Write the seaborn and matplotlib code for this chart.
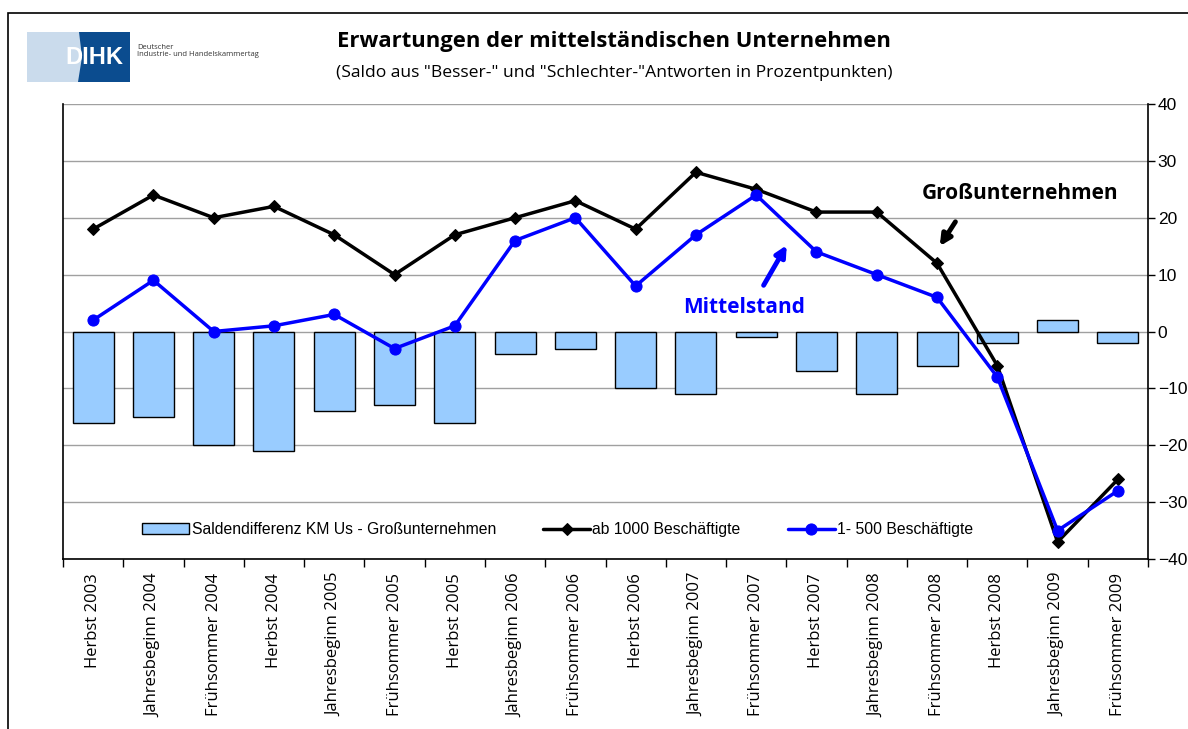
import numpy as np
import matplotlib
matplotlib.use('Agg')
import matplotlib.pyplot as plt
import seaborn as sns
from matplotlib.patches import Rectangle, Polygon

categories = ['Herbst 2003', 'Jahresbeginn 2004', 'Frühsommer 2004', 'Herbst 2004',
              'Jahresbeginn 2005', 'Frühsommer 2005', 'Herbst 2005', 'Jahresbeginn 2006',
              'Frühsommer 2006', 'Herbst 2006', 'Jahresbeginn 2007', 'Frühsommer 2007',
              'Herbst 2007', 'Jahresbeginn 2008', 'Frühsommer 2008', 'Herbst 2008',
              'Jahresbeginn 2009', 'Frühsommer 2009']
saldendifferenz = [-16, -15, -20, -21, -14, -13, -16, -4, -3, -10, -11, -1, -7, -11, -6, -2, 2, -2]
ab_1000 = [18, 24, 20, 22, 17, 10, 17, 20, 23, 18, 28, 25, 21, 21, 12, -6, -37, -26]
bis_500 = [2, 9, 0, 1, 3, -3, 1, 16, 20, 8, 17, 24, 14, 10, 6, -8, -35, -28]
y_ticks = [-40, -30, -20, -10, 0, 10, 20, 30, 40]

sns.set_style('white')
plt.rcParams['font.family'] = ['Open Sans', 'DejaVu Sans']
plt.rcParams['text.color'] = 'black'
plt.rcParams['xtick.color'] = 'black'
plt.rcParams['ytick.color'] = 'black'

fig = plt.figure(figsize=(11.88, 7.29), dpi=100)
W, H = 1188, 729
ax = fig.add_axes([63 / W, 1 - 559 / H, (1148 - 63) / W, (559 - 104) / H])

pos = np.arange(len(categories))
sns.barplot(x=pos, y=saldendifferenz, color='#99CCFF', saturation=1, edgecolor='black',
            linewidth=1, width=0.68, ax=ax, label='Saldendifferenz KM Us - Großunternehmen',
            native_scale=True)
sns.lineplot(x=pos, y=ab_1000, color='black', lw=2.5, marker='D', markersize=6,
             markeredgecolor='black', ax=ax, label='ab 1000 Beschäftigte')
sns.lineplot(x=pos, y=bis_500, color='#0000FF', lw=2.5, marker='o', markersize=8,
             markeredgecolor='#0000FF', ax=ax, label='1- 500 Beschäftigte')

ax.set_xlim(-0.5, len(categories) - 0.5)
ax.set_ylim(-40, 40)
ax.set_axisbelow(True)
ax.yaxis.grid(True, color='#A0A0A0', linewidth=1)

ax.yaxis.tick_right()
ax.set_yticks(y_ticks)
ax.set_yticklabels([str(v) if v >= 0 else '\u2212' + str(-v) for v in y_ticks],
                   fontsize=12.5, family=['Liberation Sans', 'DejaVu Sans'])
ax.tick_params(axis='y', right=True, length=5, width=1, pad=2, color='black')

ax.set_xticks(pos)
ax.set_xticklabels(categories, rotation=90, fontsize=12)
ax.set_xticks(np.arange(-0.5, len(categories), 1), minor=True)
ax.tick_params(axis='x', which='major', length=0, pad=10)
ax.tick_params(axis='x', which='minor', bottom=True, length=6, width=1, color='black')
ax.set_xlabel('')
ax.set_ylabel('')

for s in ['left', 'right', 'bottom']:
    ax.spines[s].set_visible(True)
    ax.spines[s].set_color('black')
    ax.spines[s].set_linewidth(1.2)
ax.spines['top'].set_visible(False)

handles, labels = ax.get_legend_handles_labels()
order = [labels.index('Saldendifferenz KM Us - Großunternehmen'),
         labels.index('ab 1000 Beschäftigte'), labels.index('1- 500 Beschäftigte')]
ax.legend([handles[i] for i in order], [labels[i] for i in order],
          loc='center', bbox_to_anchor=(0.456, 0.064), ncol=3, frameon=False,
          handlelength=3.0, handleheight=0.7, columnspacing=3.0, handletextpad=0.15,
          prop={'family': 'Liberation Sans', 'size': 11.3})

# annotations
ax.annotate('', xy=(14.02, 14.6), xytext=(14.33, 19.7),
            arrowprops=dict(arrowstyle='-|>', lw=3.5, mutation_scale=16, color='black'))
ax.text(15.38, 24.3, 'Großunternehmen', ha='center', va='center', fontsize=15,
        fontweight='bold', color='black')
ax.annotate('', xy=(11.53, 15.6), xytext=(11.1, 7.7),
            arrowprops=dict(arrowstyle='-|>', lw=3.5, mutation_scale=16, color='#0000FF'))
ax.text(10.8, 4.2, 'Mittelstand', ha='center', va='center', fontsize=15,
        fontweight='bold', color='#0000FF')

# titles
fig.text(614 / W, 1 - 42 / H, 'Erwartungen der mittelständischen Unternehmen',
         ha='center', va='center', fontsize=15.8, fontweight='bold')
fig.text(614 / W, 1 - 73 / H,
         '(Saldo aus "Besser-" und "Schlechter-"Antworten in Prozentpunkten)',
         ha='center', va='center', fontsize=12.6)

# outer frame
fig.add_artist(Rectangle((8 / W, -0.1), 1.2, (H - 13) / H + 0.1, transform=fig.transFigure,
                         fill=False, edgecolor='black', lw=1.2))

# DIHK logo
fig.add_artist(Rectangle((27 / W, 1 - 82 / H), 103 / W, 50 / H, transform=fig.transFigure,
                         facecolor='#CADBEC', edgecolor='none'))
fig.add_artist(Polygon([(79 / W, 1 - 32 / H), (130 / W, 1 - 32 / H), (130 / W, 1 - 82 / H),
                        (78 / W, 1 - 82 / H), (82 / W, 1 - 57 / H)],
                       closed=True, transform=fig.transFigure, facecolor='#0B4C8F',
                       edgecolor='none'))
fig.text(94 / W, 1 - 57 / H, 'DIHK', ha='center', va='center', fontsize=17,
         fontweight='bold', color='white', family=['Liberation Sans'])
fig.text(137 / W, 1 - 51 / H, 'Deutscher\nIndustrie- und Handelskammertag', ha='left',
         va='center', fontsize=5.5, color='#333333', linespacing=1.1)

fig.savefig('out.png', dpi=100)
